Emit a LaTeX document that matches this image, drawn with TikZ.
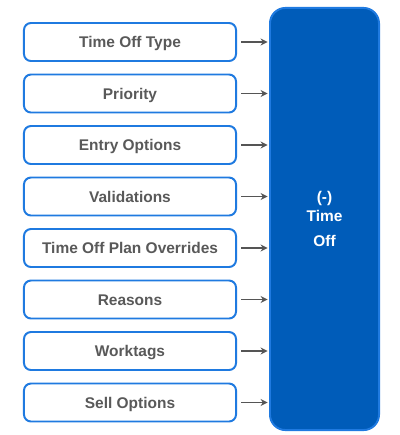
\documentclass[tikz,border=0pt]{standalone}
\usepackage{fontspec}
\setmainfont{Liberation Sans}
\usepackage{tikz}
\usetikzlibrary{positioning, arrows.meta}
\definecolor{boxblue}{HTML}{1F7AE0}
\definecolor{darkblue}{HTML}{005CB9}
\definecolor{textgray}{HTML}{595959}
\definecolor{arrowgray}{HTML}{555555}

\begin{document}
\begin{tikzpicture}[x=0.025cm, y=-0.025cm,
    itembox/.style={draw=boxblue, line width=1.4pt, fill=white, rounded corners=5pt,
      minimum width=5.3cm, minimum height=0.95cm, inner sep=0pt,
      text height=10pt, text depth=2pt,
      text=textgray, font=\fontsize{11}{13}\selectfont\bfseries},
    mainbox/.style={draw=boxblue, line width=1.4pt, fill=darkblue, rounded corners=11pt,
      minimum width=2.725cm, minimum height=10.55cm, align=center,
      text=white, font=\fontsize{11}{13}\selectfont\bfseries},
    feed/.style={draw=arrowgray, line width=1.4pt, -{Stealth[length=5pt, width=5pt]},
      shorten <=3pt, shorten >=1pt}]
        \useasboundingbox (0,0) rectangle (400,435);

        % caixa principal
        \node[mainbox] (timeoff) at (324.5,219) {(-)\\Time\\[5pt]Off};

        % caixas da esquerda
        \foreach \name/\label [count=\i from 0] in {type/Time Off Type, priority/Priority,
            entry/Entry Options, valid/Validations, plan/Time Off Plan Overrides,
            reasons/Reasons, worktags/Worktags, sell/Sell Options} {
          \node[itembox] (\name) at (130,{42+51.5*\i}) {\label};
          \draw[feed] (\name.east) -- (\name.east -| timeoff.west);
        }
    \end{tikzpicture}
\end{document}
